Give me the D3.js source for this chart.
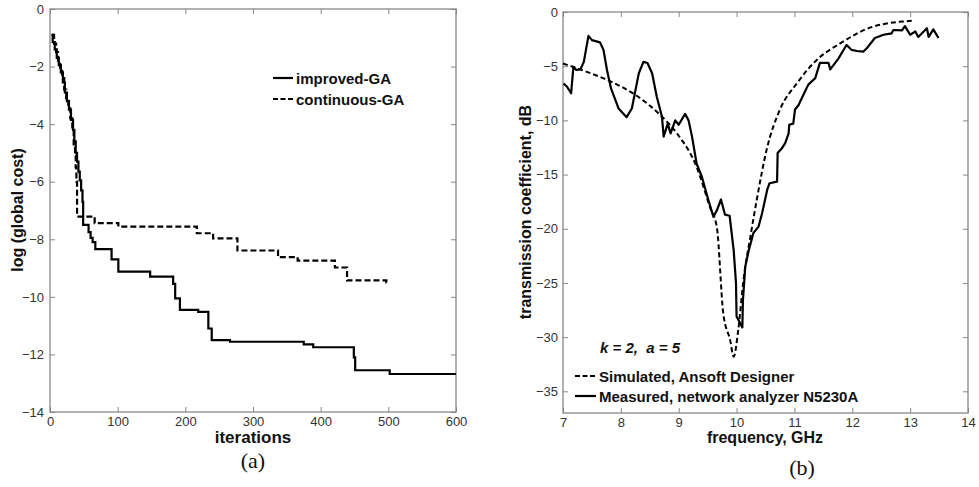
<!DOCTYPE html>
<html>
<head>
<meta charset="utf-8">
<script src="https://cdn.jsdelivr.net/npm/d3@7"></script>
<style>
  body { margin: 0; background: #fff; }
  svg { display: block; }
  .tick text { font-family: "Liberation Sans", Arial, sans-serif; font-size: 13px; fill: #333; }
  .tick line { stroke: #888; }
  .axlabel { font-family: "Liberation Sans", Arial, sans-serif; font-weight: bold; fill: #111; }
  .legend { font-family: "Liberation Sans", Arial, sans-serif; font-weight: bold; font-size: 15px; fill: #111; }
  .caption { font-family: "Liberation Serif", "DejaVu Serif", serif; font-size: 22px; fill: #111; }
</style>
</head>
<body>
<svg id="mySVG" width="979" height="487"></svg>
<script>
// (a) cost vs iterations, step levels: iteration where level starts, log cost
const improvedIter = [2, 4, 7, 10, 13, 16, 19, 22, 25, 28, 31, 34, 36, 38, 40, 42, 44, 46, 48, 49, 57, 60, 63, 67, 91, 101, 148, 182, 185, 192, 219, 234, 239, 266, 375, 389, 449, 451, 502, 600];
const improvedCost = [-0.9, -1.15, -1.4, -1.7, -1.95, -2.2, -2.55, -2.9, -3.2, -3.5, -3.85, -4.2, -4.6, -5.0, -5.3, -5.65, -5.95, -6.3, -6.7, -7.5, -7.75, -7.95, -8.1, -8.34, -8.7, -9.12, -9.3, -9.55, -10.05, -10.45, -10.52, -11.1, -11.5, -11.56, -11.65, -11.75, -12.1, -12.55, -12.68, -12.68];

const continuousIter = [3, 6, 9, 12, 15, 18, 21, 24, 27, 30, 33, 35, 37, 38, 39, 40, 66, 101, 217, 241, 277, 337, 366, 421, 439, 497, 500];
const continuousCost = [-0.9, -1.2, -1.5, -1.85, -2.1, -2.4, -2.8, -3.1, -3.45, -3.8, -4.2, -4.7, -5.1, -5.5, -6.0, -7.21, -7.44, -7.56, -7.79, -7.97, -8.39, -8.62, -8.74, -8.98, -9.43, -9.5, -9.5];

const iterTicks = [0, 100, 200, 300, 400, 500, 600];
const costTicks = [0, -2, -4, -6, -8, -10, -12, -14];

// (b) transmission coefficient vs frequency
const simFreq = [7.0, 7.4, 7.82, 8.28, 8.68, 8.97, 9.31, 9.54, 9.66, 9.77, 9.89, 9.95, 10.03, 10.12, 10.24, 10.35, 10.52, 10.75, 11.04, 11.39, 11.79, 12.36, 13.05];
const simDB = [-4.75, -5.5, -6.4, -7.75, -9.5, -11.2, -14.3, -18.0, -19.9, -27.8, -30.3, -31.8, -29.3, -24.7, -20.7, -17.3, -12.7, -9.0, -6.6, -4.4, -2.9, -1.35, -0.8];

const measFreq = [7.01, 7.07, 7.14, 7.18, 7.23, 7.30, 7.36, 7.44, 7.50, 7.64, 7.70, 7.76, 7.83, 7.96, 8.10, 8.19, 8.31, 8.39, 8.46, 8.54, 8.62, 8.71, 8.74, 8.81, 8.86, 8.94, 9.00, 9.11, 9.17, 9.23, 9.31, 9.40, 9.51, 9.60, 9.66, 9.73, 9.80, 9.88, 9.95, 9.99, 10.0, 10.06, 10.10, 10.11, 10.15, 10.21, 10.26, 10.29, 10.38, 10.44, 10.53, 10.57, 10.70, 10.71, 10.78, 10.84, 10.90, 10.91, 10.98, 11.01, 11.07, 11.18, 11.24, 11.36, 11.44, 11.59, 11.62, 11.76, 11.90, 11.99, 12.08, 12.19, 12.25, 12.39, 12.54, 12.68, 12.71, 12.86, 12.91, 13.0, 13.09, 13.14, 13.29, 13.32, 13.40, 13.49];
const measDB = [-6.6, -6.9, -7.5, -5.05, -5.35, -5.3, -4.6, -2.2, -2.6, -2.8, -3.5, -5.35, -7.05, -8.9, -9.7, -8.9, -5.66, -4.6, -4.7, -5.65, -7.8, -9.65, -11.5, -10.3, -11.2, -10.0, -10.4, -9.4, -10.0, -11.5, -14.0, -15.2, -17.3, -18.9, -18.3, -17.3, -18.7, -18.8, -22.0, -25.0, -28.1, -28.7, -29.1, -26.6, -23.5, -22.0, -21.0, -20.4, -19.8, -18.6, -16.4, -15.8, -15.65, -13.0, -12.6, -12.1, -11.2, -10.4, -10.3, -9.0, -8.6, -7.35, -6.7, -6.1, -4.7, -4.7, -5.3, -4.3, -3.05, -3.5, -3.6, -3.66, -3.35, -2.4, -2.1, -1.97, -1.66, -1.7, -1.3, -2.1, -1.8, -2.3, -1.5, -2.3, -1.6, -2.4];

const freqTicks = [7, 8, 9, 10, 11, 12, 13, 14];
const dbTicks = [0, -5, -10, -15, -20, -25, -30, -35];

const svg = d3.select("#mySVG");

function drawFrame(g, x, y, xTicks, yTicks, xPad, yPad) {
    const [x0, x1] = x.range();
    const [y0, y1] = y.range();   // y0 bottom, y1 top
    const fmt = d3.format("d");
    g.append("g").attr("transform", `translate(0,${y0})`)
        .call(d3.axisBottom(x).tickValues(xTicks).tickFormat(fmt).tickSizeInner(-5).tickSizeOuter(0).tickPadding(xPad))
        .call(a => a.select(".domain").remove());
    g.append("g").attr("transform", `translate(0,${y1})`)
        .call(d3.axisTop(x).tickValues(xTicks).tickSizeInner(-5).tickSizeOuter(0).tickFormat(""))
        .call(a => a.select(".domain").remove());
    g.append("g").attr("transform", `translate(${x0},0)`)
        .call(d3.axisLeft(y).tickValues(yTicks).tickFormat(fmt).tickSizeInner(-5).tickSizeOuter(0).tickPadding(yPad))
        .call(a => a.select(".domain").remove());
    g.append("g").attr("transform", `translate(${x1},0)`)
        .call(d3.axisRight(y).tickValues(yTicks).tickSizeInner(-5).tickSizeOuter(0).tickFormat(""))
        .call(a => a.select(".domain").remove());
    g.append("rect")
        .attr("x", x0).attr("y", y1)
        .attr("width", x1 - x0).attr("height", y0 - y1)
        .attr("fill", "none").attr("stroke", "#888").attr("stroke-width", 1.3);
}

// ---- panel (a)
const xa = d3.scaleLinear().domain([0, 600]).range([50, 456]);
const ya = d3.scaleLinear().domain([-14, 0]).range([412, 9]);
const ga = svg.append("g");
drawFrame(ga, xa, ya, iterTicks, costTicks, 5, 6);

const stepLine = d3.line().curve(d3.curveStepAfter)
    .x(d => xa(d[0])).y(d => ya(d[1]));

ga.append("path")
    .datum(continuousIter.map((v, i) => [v, continuousCost[i]]))
    .attr("d", stepLine)
    .attr("fill", "none").attr("stroke", "#000").attr("stroke-width", 2.2)
    .attr("stroke-dasharray", "6,3");

ga.append("path")
    .datum(improvedIter.map((v, i) => [v, improvedCost[i]]))
    .attr("d", stepLine)
    .attr("fill", "none").attr("stroke", "#000").attr("stroke-width", 2.2);

// legend (a)
ga.append("line").attr("x1", 273).attr("x2", 293).attr("y1", 78).attr("y2", 78)
    .attr("stroke", "#000").attr("stroke-width", 2.2);
ga.append("text").attr("class", "legend").attr("x", 296).attr("y", 84).text("improved-GA");
ga.append("line").attr("x1", 273).attr("x2", 293).attr("y1", 99).attr("y2", 99)
    .attr("stroke", "#000").attr("stroke-width", 2).attr("stroke-dasharray", "5,2.5");
ga.append("text").attr("class", "legend").attr("x", 296).attr("y", 105).text("continuous-GA");

ga.append("text").attr("class", "axlabel").attr("font-size", 17)
    .attr("x", 253).attr("y", 443).attr("text-anchor", "middle").text("iterations");
ga.append("text").attr("class", "axlabel").attr("font-size", 16)
    .attr("transform", "translate(23,210) rotate(-90)")
    .attr("text-anchor", "middle").text("log (global cost)");
ga.append("text").attr("class", "caption").attr("x", 253).attr("y", 468)
    .attr("text-anchor", "middle").text("(a)");

// ---- panel (b)
const xb = d3.scaleLinear().domain([7, 14]).range([563, 968]);
const yb = d3.scaleLinear().domain([-37, 0]).range([413, 12]);
const gb = svg.append("g");
drawFrame(gb, xb, yb, freqTicks, dbTicks, 5, 5);

gb.append("path")
    .datum(simFreq.map((v, i) => [v, simDB[i]]))
    .attr("d", d3.line().curve(d3.curveMonotoneX).x(d => xb(d[0])).y(d => yb(d[1])))
    .attr("fill", "none").attr("stroke", "#000").attr("stroke-width", 2)
    .attr("stroke-dasharray", "5,3");

gb.append("path")
    .datum(measFreq.map((v, i) => [v, measDB[i]]))
    .attr("d", d3.line().x(d => xb(d[0])).y(d => yb(d[1])))
    .attr("fill", "none").attr("stroke", "#000").attr("stroke-width", 2.2)
    .attr("stroke-linejoin", "round");

gb.append("text").attr("class", "legend").attr("font-size", 16).attr("font-style", "italic")
    .attr("x", 600).attr("y", 353).attr("xml:space", "preserve").text("k = 2,  a = 5");

gb.append("line").attr("x1", 575).attr("x2", 596).attr("y1", 376).attr("y2", 376)
    .attr("stroke", "#000").attr("stroke-width", 2).attr("stroke-dasharray", "5,2.5");
gb.append("text").attr("class", "legend").attr("x", 599).attr("y", 382).text("Simulated, Ansoft Designer");
gb.append("line").attr("x1", 575).attr("x2", 596).attr("y1", 396).attr("y2", 396)
    .attr("stroke", "#000").attr("stroke-width", 2.2);
gb.append("text").attr("class", "legend").attr("x", 599).attr("y", 402).text("Measured, network analyzer N5230A");

gb.append("text").attr("class", "axlabel").attr("font-size", 16)
    .attr("x", 765).attr("y", 443).attr("text-anchor", "middle").text("frequency, GHz");
gb.append("text").attr("class", "axlabel").attr("font-size", 16)
    .attr("transform", "translate(531,212) rotate(-90)")
    .attr("text-anchor", "middle").text("transmission coefficient, dB");
gb.append("text").attr("class", "caption").attr("x", 802).attr("y", 475)
    .attr("text-anchor", "middle").text("(b)");
</script>
</body>
</html>
